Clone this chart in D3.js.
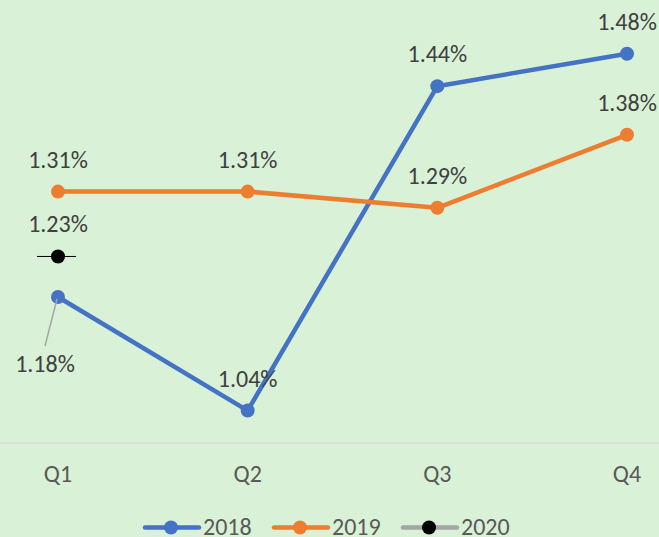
<!DOCTYPE html>
<html>
<head>
<meta charset="utf-8">
<script src="https://cdn.jsdelivr.net/npm/d3@7"></script>
<style>
  body { margin: 0; background: #d9f1d6; }
  svg { display: block; font-family: Carlito, Lato, "Open Sans", sans-serif; }
</style>
</head>
<body>
<svg id="chart" width="659" height="537"></svg>
<script>
var quarters = ["Q1", "Q2", "Q3", "Q4"];
var years = ["2018", "2019", "2020"];
var values2018 = [1.18, 1.04, 1.44, 1.48];
var values2019 = [1.31, 1.31, 1.29, 1.38];
var values2020 = [1.23, null, null, null];
var colors = ["#4472c4", "#ed7d31", "#a5a5a5"];

var svg = d3.select("#chart");
var width = 659, height = 537;

svg.append("rect").attr("width", width).attr("height", height).attr("fill", "#d9f1d6");

var x = d3.scalePoint().domain(quarters).range([58, 627]);
var y = d3.scaleLinear().domain([1.0, 1.5]).range([443, 37.5]);

// category axis line
svg.append("line")
    .attr("x1", 0).attr("x2", width)
    .attr("y1", y(1.0)).attr("y2", y(1.0))
    .attr("stroke", "#d9d9d9").attr("stroke-width", 1.5);

svg.selectAll("text.qlabel")
    .data(quarters)
    .enter().append("text")
    .attr("class", "qlabel")
    .attr("x", function (d) { return x(d); })
    .attr("y", 482)
    .attr("text-anchor", "middle")
    .attr("font-size", 24)
    .attr("fill", "#595959")
    .text(function (d) { return d; });

var series = [
    {name: "2018", values: values2018, color: colors[0]},
    {name: "2019", values: values2019, color: colors[1]},
    {name: "2020", values: values2020, color: colors[2]}
];

var line = d3.line()
    .defined(function (d) { return d.v != null; })
    .x(function (d) { return x(d.q); })
    .y(function (d) { return y(d.v); });

function pts(s) {
    return s.values.map(function (v, i) { return {q: quarters[i], v: v}; });
}

// lines + markers for 2018 and 2019
series.slice(0, 2).forEach(function (s) {
    svg.append("path")
        .datum(pts(s))
        .attr("d", line)
        .attr("fill", "none")
        .attr("stroke", s.color)
        .attr("stroke-width", 4.5)
        .attr("stroke-linejoin", "round");
    svg.selectAll(null)
        .data(pts(s))
        .enter().append("circle")
        .attr("cx", function (d) { return x(d.q); })
        .attr("cy", function (d) { return y(d.v); })
        .attr("r", 7)
        .attr("fill", s.color);
});

// 2020: single point, black marker with short dash
var p2020 = pts(series[2]).filter(function (d) { return d.v != null; });
svg.selectAll(null)
    .data(p2020)
    .enter().append("line")
    .attr("x1", function (d) { return x(d.q) - 21; })
    .attr("x2", function (d) { return x(d.q) + 18; })
    .attr("y1", function (d) { return y(d.v); })
    .attr("y2", function (d) { return y(d.v); })
    .attr("stroke", "#000").attr("stroke-width", 1);
svg.selectAll(null)
    .data(p2020)
    .enter().append("circle")
    .attr("cx", function (d) { return x(d.q); })
    .attr("cy", function (d) { return y(d.v); })
    .attr("r", 7)
    .attr("fill", "#000");

// data labels
var labels = [];
series.forEach(function (s, si) {
    s.values.forEach(function (v, i) {
        if (v == null) return;
        var lb = {q: quarters[i], v: v, dx: 0, dy: -24};
        if (si === 0 && i === 0) { lb.dx = -13; lb.dy = 75; lb.leader = true; }
        labels.push(lb);
    });
});

labels.filter(function (d) { return d.leader; }).forEach(function (d) {
    svg.append("line")
        .attr("x1", x(d.q) - 1).attr("y1", y(d.v) + 2)
        .attr("x2", x(d.q) + d.dx).attr("y2", y(d.v) + d.dy - 26)
        .attr("stroke", "#a6a6a6").attr("stroke-width", 1.5);
});

svg.selectAll("text.dlabel")
    .data(labels)
    .enter().append("text")
    .attr("class", "dlabel")
    .attr("x", function (d) { return x(d.q) + d.dx; })
    .attr("y", function (d) { return y(d.v) + d.dy; })
    .attr("text-anchor", "middle")
    .attr("font-size", 24)
    .attr("fill", "#404040")
    .text(function (d) { return d.v.toFixed(2) + "%"; });

// legend
var legendX = [144, 273, 402];
var legend = svg.selectAll("g.legend")
    .data(series)
    .enter().append("g")
    .attr("class", "legend")
    .attr("transform", function (d, i) { return "translate(" + legendX[i] + ",527.5)"; });
legend.append("line")
    .attr("x1", 1).attr("x2", 55)
    .attr("stroke", function (d) { return d.color; })
    .attr("stroke-width", 4.5)
    .attr("stroke-linecap", "round");
legend.append("circle")
    .attr("cx", 27).attr("r", 7)
    .attr("fill", function (d, i) { return i === 2 ? "#000" : d.color; });
legend.append("text")
    .attr("x", 59).attr("y", 7)
    .attr("font-size", 24)
    .attr("fill", "#595959")
    .text(function (d) { return d.name; });
</script>
</body>
</html>
